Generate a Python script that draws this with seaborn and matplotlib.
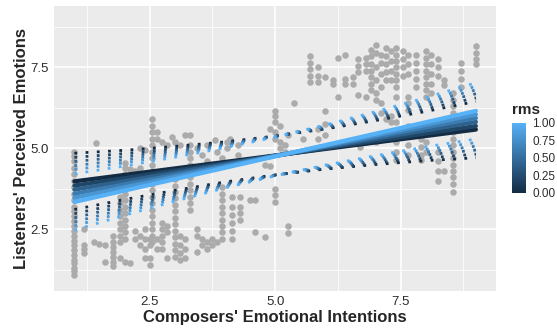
import numpy as np
import pandas as pd
import matplotlib
matplotlib.use('Agg')
import matplotlib.pyplot as plt
from matplotlib.colors import LinearSegmentedColormap, Normalize
from matplotlib.cm import ScalarMappable
import seaborn as sns

# grey points : composers' intention (column) -> listeners' ratings
col_x = [1.00, 1.20, 1.43, 1.40, 1.50, 1.60, 1.76, 1.90, 2.00, 2.10, 2.20, 2.30,
         2.40, 2.50, 2.55, 2.65, 2.75, 2.85, 2.95, 3.00, 3.10, 3.20, 3.30, 3.45,
         3.55, 3.65, 3.75, 3.80, 3.85, 3.95, 4.05, 4.10, 4.15, 4.25, 4.30, 4.50,
         4.60, 4.80, 4.90, 5.00, 5.10, 5.20, 5.25, 5.37, 5.55, 5.70, 5.85, 6.00,
         6.15, 6.25, 6.40, 6.55, 6.65, 6.70, 6.80, 6.90, 7.00, 7.10, 7.20, 7.30,
         7.40, 7.55, 7.65, 7.80, 7.90, 8.00, 8.10, 8.25, 8.37, 8.55, 8.70, 9.00]
col_y = [
    [1.1, 1.2, 1.3, 1.45, 1.55, 1.7, 1.85, 2.0, 2.15, 2.3, 2.45, 2.6, 2.75, 2.9,
     3.05, 3.2, 3.4, 3.6, 3.8, 4.0, 4.2, 4.4, 4.6, 4.75, 4.9],
    [1.75, 1.9, 2.0, 2.5],
    [5.15],
    [2.1],
    [2.05],
    [2.0, 1.5],
    [1.35, 1.5, 1.65, 1.8, 1.95, 2.1, 2.3],
    [2.1, 2.3, 2.5, 2.7, 2.9, 3.1, 3.3, 3.5, 1.6],
    [2.2, 2.4, 2.6, 2.8, 3.0, 3.2, 3.4, 3.6, 3.8, 4.0, 4.2, 4.4, 4.55, 1.5],
    [1.45, 4.35],
    [4.3, 2.45, 2.2],
    [5.0, 2.3, 2.0, 4.4],
    [4.95, 2.5, 2.2, 1.9, 1.6],
    [1.4, 1.6, 2.0, 2.2],
    [2.1, 2.3, 2.5, 2.7, 2.9, 3.1, 3.3, 3.5, 3.7, 3.9, 4.1, 4.3, 4.5, 4.7, 4.9,
     5.1, 5.3, 5.5, 5.7, 5.9],
    [5.5, 5.3, 2.2, 1.9],
    [2.7, 2.5, 2.3, 2.1, 1.9, 5.2],
    [2.6, 2.4, 1.6, 5.1],
    [5.35],
    [1.65, 1.85, 2.05, 2.25, 2.45, 2.65, 2.85, 3.05, 3.25, 3.45, 3.65, 3.85,
     4.05, 5.2],
    [1.55, 1.75, 2.0, 2.3, 5.1],
    [1.6, 1.9, 2.2, 5.4],
    [3.1, 3.3, 3.5, 3.7, 3.9, 4.1, 4.3, 4.5, 4.7, 4.9, 5.1, 5.4],
    [2.5, 2.3, 1.8, 5.0],
    [2.2, 2.0, 4.8],
    [2.1, 1.9, 5.1, 4.6],
    [2.2, 2.0],
    [5.25],
    [2.1, 4.9],
    [2.2, 2.4, 2.6, 2.8, 3.0, 3.2, 3.4, 3.6, 3.8, 4.7],
    [5.2, 5.0],
    [5.3],
    [2.2, 2.45, 2.7, 2.95, 3.2, 3.5],
    [4.8, 5.1],
    [2.8, 3.0, 3.2, 3.5],
    [3.4],
    [3.4, 2.4],
    [2.25, 4.5],
    [4.45, 5.6],
    [3.35, 3.55, 3.75, 5.3, 5.5, 5.8, 6.0, 6.15],
    [5.2, 5.0, 5.7],
    [4.9, 5.1],
    [2.37, 2.6, 5.4],
    [6.4],
    [5.3],
    [7.05, 7.25, 7.45, 7.65, 7.85],
    [7.05, 7.25, 7.5, 5.6, 5.3],
    [7.2, 6.15, 5.75, 5.4],
    [7.0, 7.1],
    [6.6, 7.8],
    [7.9, 7.15, 7.0],
    [7.2, 7.0],
    [7.35, 7.55, 7.75, 6.65],
    [5.25, 5.05],
    [7.4, 7.6, 7.8, 6.6, 5.2],
    [7.85, 8.05, 7.6, 7.4, 7.2, 7.0, 6.8],
    [8.2, 7.95, 7.5, 7.1, 6.7, 6.5, 5.2],
    [7.9, 7.65, 7.3, 6.9, 6.4, 6.1],
    [8.1, 7.85, 7.6, 7.35, 7.1, 5.9],
    [8.0, 7.7, 7.4, 7.1, 6.0, 5.8],
    [8.1, 7.9, 7.7, 7.5, 7.3, 7.1, 6.9, 6.6, 5.8, 5.5, 5.2, 4.9, 4.65],
    [8.0, 7.75, 7.5, 7.25],
    [7.9, 7.6, 7.3, 6.6, 6.4, 6.2, 5.7, 5.4, 5.1, 4.8],
    [7.9, 7.65, 7.4, 7.15, 6.9],
    [5.3, 5.05, 4.8, 4.65, 5.6],
    [8.0, 7.8, 7.6, 7.4, 7.2, 7.0, 6.8, 6.6, 5.5, 5.2, 4.9],
    [7.9, 7.6, 7.3, 7.0, 6.7],
    [7.75, 7.5, 7.25, 4.9, 4.6, 4.3, 4.0],
    [7.1, 6.95, 4.3],
    [6.7, 6.5, 6.3, 6.1, 5.9, 5.7, 5.5, 5.3, 5.1, 4.9, 4.7, 4.5, 4.3, 4.1, 3.9,
     3.65],
    [7.65, 7.4, 7.15, 6.9],
    [8.15, 7.95, 7.75, 7.6],
]

# fitted lines, one per rms value
rms = [0.0, 0.2, 0.4, 0.6, 0.8, 1.0]
intercept = [3.78, 3.62, 3.46, 3.30, 3.15, 2.99]
slope = [0.200, 0.230, 0.262, 0.293, 0.322, 0.352]
fit_range = [1, 9]

# half width of the dotted interval around each fit
band_x = [1, 2, 3, 4, 5, 6, 7, 8, 9]
band_half = [0.87, 0.76, 0.68, 0.62, 0.60, 0.62, 0.68, 0.76, 0.87]

ticks = [2.5, 5.0, 7.5]
minor_ticks = [1.25, 3.75, 6.25, 8.75]
cbar_ticks = [0.0, 0.25, 0.5, 0.75, 1.0]

# tables for seaborn
pts = pd.DataFrame({'x': [cx for cx, ys in zip(col_x, col_y) for _ in ys],
                    'y': [v for ys in col_y for v in ys]})

fit_rows = []
band_rows = []
for r, a, b in zip(rms, intercept, slope):
    for xx in fit_range:
        fit_rows.append({'rms': r, 'x': xx, 'y': a + b * xx})
    for xx, h in zip(band_x, band_half):
        band_rows.append({'rms': r, 'side': 'upper', 'x': xx, 'y': a + b * xx + h})
        band_rows.append({'rms': r, 'side': 'lower', 'x': xx, 'y': a + b * xx - h})
fit = pd.DataFrame(fit_rows)
band = pd.DataFrame(band_rows)

cmap = LinearSegmentedColormap.from_list('ggblue', ['#132B43', '#56B1F7'])

sns.set_theme(style='darkgrid', rc={'axes.facecolor': '#EBEBEB',
                                    'grid.color': 'white',
                                    'lines.scale_dashes': False})
plt.rcParams['font.family'] = ['Liberation Sans', 'DejaVu Sans']

fig = plt.figure(figsize=(5.57, 3.29), dpi=100)
ax = fig.add_axes([0.0975, 0.1164, 0.7930, 0.8654])

sns.scatterplot(data=pts, x='x', y='y', color='#ABABAB', s=22, linewidth=0,
                ax=ax, zorder=2)
sns.lineplot(data=band, x='x', y='y', hue='rms', units='side', estimator=None,
             palette=cmap, hue_norm=(0, 1), sort=False, legend=False,
             linewidth=2.0, linestyle=(0, (2.0, 6.1)), ax=ax, zorder=3)
sns.lineplot(data=fit, x='x', y='y', hue='rms', estimator=None,
             palette=cmap, hue_norm=(0, 1), sort=False, legend=False,
             linewidth=3.0, ax=ax, zorder=4)

ax.set_xlim(0.6, 9.4)
ax.set_ylim(0.6, 9.4)
ax.set_xticks(ticks)
ax.set_yticks(ticks)
ax.set_xticks(minor_ticks, minor=True)
ax.set_yticks(minor_ticks, minor=True)
ax.grid(which='major', color='white', linewidth=1.1)
ax.grid(which='minor', color='white', linewidth=0.55)
ax.tick_params(which='major', length=2.5, width=0.8, color='#333333',
               labelsize=9.5, labelcolor='#2b2b2b', pad=1.5)
ax.tick_params(which='minor', length=0)
for sp in ax.spines.values():
    sp.set_visible(False)
ax.set_xlabel("Composers' Emotional Intentions", fontsize=12, fontweight='bold',
              labelpad=1.5)
ax.set_ylabel("Listeners' Perceived Emotions", fontsize=12, fontweight='bold',
              labelpad=1)

# colour bar for rms
cax = fig.add_axes([0.9192, 0.4134, 0.026, 0.2137])
cb = fig.colorbar(ScalarMappable(norm=Normalize(0, 1), cmap=cmap), cax=cax,
                  ticks=cbar_ticks)
cb.outline.set_visible(False)
cb.ax.set_yticklabels(['0.00', '0.25', '0.50', '0.75', '1.00'])
cax.tick_params(direction='in', color='white', length=2.5, width=0.6,
                labelsize=8.5, labelcolor='#2b2b2b', pad=4, left=True, right=True)
fig.text(0.9192, 0.665, 'rms', fontsize=11, fontweight='bold', ha='left',
         va='center')

fig.savefig('out.png', dpi=100)
